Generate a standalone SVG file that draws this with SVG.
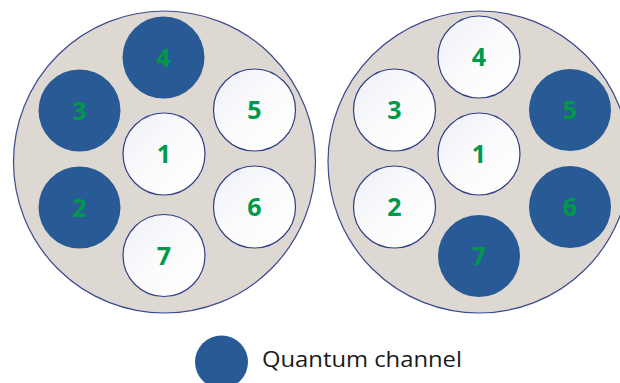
<svg xmlns="http://www.w3.org/2000/svg" width="620" height="383" viewBox="0 0 620 383">
<defs>
<linearGradient id="wg" x1="0" y1="0" x2="1" y2="1">
<stop offset="0" stop-color="#eef0f6"/>
<stop offset="0.5" stop-color="#fbfbfd"/>
<stop offset="1" stop-color="#ffffff"/>
</linearGradient>
<style>
.fiber{fill:#ddd8d2;stroke:#3d4a8e;stroke-width:1.2}
.core{fill:url(#wg);stroke:#2f3e86;stroke-width:1.2}
.qc{fill:#285a96;stroke:none}
.lbl{font-family:"Open Sans","Liberation Sans",sans-serif;font-weight:bold;font-size:25px;fill:#00994a;text-anchor:middle}
.leg{font-family:"Open Sans","Noto Sans","Liberation Sans",sans-serif;font-size:22px;fill:#1a1a1a}
</style>
</defs>
<g id="fiber-left">
<circle class="fiber" cx="164.5" cy="162" r="151"/>
<g id="L1"><circle class="core" cx="164" cy="154" r="41"/><text class="lbl" x="164" y="163">1</text></g>
<g id="L2"><circle class="qc" cx="79.5" cy="207.5" r="41"/><text class="lbl" x="79.5" y="216.5">2</text></g>
<g id="L3"><circle class="qc" cx="79.5" cy="110.5" r="41"/><text class="lbl" x="79.5" y="119.5">3</text></g>
<g id="L4"><circle class="qc" cx="163.5" cy="57.5" r="41"/><text class="lbl" x="163.5" y="66.5">4</text></g>
<g id="L5"><circle class="core" cx="254.5" cy="110" r="41"/><text class="lbl" x="254.5" y="119">5</text></g>
<g id="L6"><circle class="core" cx="254.5" cy="207" r="41"/><text class="lbl" x="254.5" y="216">6</text></g>
<g id="L7"><circle class="core" cx="164" cy="255.5" r="41"/><text class="lbl" x="164" y="264.5">7</text></g>
</g>
<g id="fiber-right">
<circle class="fiber" cx="479" cy="162" r="151"/>
<g id="R1"><circle class="core" cx="479" cy="154" r="41"/><text class="lbl" x="479" y="163">1</text></g>
<g id="R2"><circle class="core" cx="394.5" cy="207" r="41"/><text class="lbl" x="394.5" y="216">2</text></g>
<g id="R3"><circle class="core" cx="394.5" cy="110" r="41"/><text class="lbl" x="394.5" y="119">3</text></g>
<g id="R4"><circle class="core" cx="479" cy="57" r="41"/><text class="lbl" x="479" y="66">4</text></g>
<g id="R5"><circle class="qc" cx="570" cy="110" r="41"/><text class="lbl" x="570" y="119">5</text></g>
<g id="R6"><circle class="qc" cx="570" cy="207" r="41"/><text class="lbl" x="570" y="216">6</text></g>
<g id="R7"><circle class="qc" cx="479" cy="256" r="41"/><text class="lbl" x="479" y="265">7</text></g>
</g>
<g id="legend">
<circle class="qc" cx="221.5" cy="362" r="26.5"/>
<text class="leg" x="262" y="367" textLength="200" lengthAdjust="spacingAndGlyphs">Quantum channel</text>
</g>
<g id="connectors"/>
</svg>
